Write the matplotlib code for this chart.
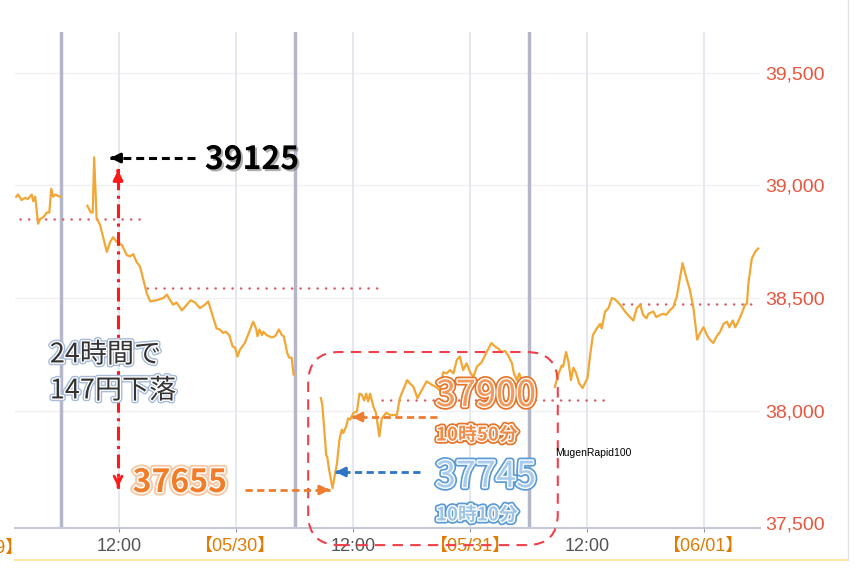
import matplotlib.pyplot as plt
import matplotlib.patheffects as pe
from matplotlib.patches import FancyBboxPatch
from matplotlib.lines import Line2D

plt.rcParams['font.family'] = ['Noto Sans CJK JP', 'DejaVu Sans']

# time = hours counted from 05/29 00:00, price in yen
s1_t = [1.45, 1.65, 2.0, 2.35, 2.65, 3.05, 3.2, 3.4, 3.7, 3.9, 4.25, 4.6, 4.85, 5.05, 5.25, 5.45, 5.95]
s1_p = [38950, 38960, 38935, 38945, 38940, 38960, 38930, 38950, 38830, 38850, 38860, 38880, 38880, 38985,
        38950, 38960, 38950]

s2_t = [8.75, 9.1, 9.3, 9.45, 9.7, 10.05, 10.75, 11.1, 11.4, 11.75, 12.3, 12.8, 13.15, 13.45, 13.8,
        14.15, 14.5, 14.85, 15.2, 15.85, 16.55, 16.9, 17.25, 17.55, 17.9, 18.45, 18.95, 19.35, 19.8, 20.3,
        20.8, 21.15, 21.5, 22.0, 22.35, 22.65, 22.95, 23.3, 23.65, 23.9, 24.15, 24.4, 24.9, 25.45, 25.75,
        26.05, 26.2, 26.4, 26.65, 26.8, 27.15, 27.65, 28.0, 28.4, 28.7, 28.9, 29.25, 29.45, 29.7, 29.9]
s2_p = [38910, 38880, 38880, 39125, 38855, 38825, 38705, 38750, 38770, 38750, 38735, 38690, 38685, 38695,
        38660, 38640, 38580, 38520, 38485, 38490, 38500, 38515, 38490, 38470, 38480, 38445, 38470, 38490,
        38480, 38455, 38470, 38485, 38435, 38365, 38360, 38345, 38350, 38335, 38285, 38280, 38240, 38270,
        38300, 38360, 38395, 38365, 38330, 38360, 38335, 38350, 38335, 38325, 38330, 38360, 38335, 38330,
        38255, 38235, 38235, 38160]

s3_t = [32.7, 32.85, 33.05, 33.25, 33.35, 33.55, 33.9, 34.1, 34.35, 34.6, 34.85, 35.0, 35.3, 35.5, 35.7,
        36.05, 36.4, 36.65, 36.9, 37.15, 37.35, 37.55, 37.75, 38.1, 38.35, 38.7, 38.95, 39.4, 39.8, 40.5,
        40.8, 41.55, 41.85, 42.2, 42.6, 43.05, 43.55, 44.05, 44.5, 44.9, 45.25, 45.6, 45.95, 46.3, 46.65,
        46.95, 47.3, 47.65, 48.0, 48.35, 48.7, 49.2, 49.7, 50.2, 50.55, 50.9, 51.25, 51.6, 51.9, 52.3,
        52.5, 52.8, 53.05, 53.3]
s3_p = [38055, 38025, 37915, 37800, 37795, 37735, 37655, 37705, 37765, 37870, 37915, 37900, 37930, 37965,
        37960, 37990, 37995, 38075, 38070, 38045, 38075, 38040, 38075, 38015, 37990, 37885, 37965, 37990,
        37980, 37980, 38055, 38135, 38120, 38105, 38055, 38090, 38130, 38115, 38105, 38090, 38170, 38165,
        38180, 38165, 38225, 38240, 38180, 38210, 38170, 38150, 38195, 38215, 38260, 38300, 38285, 38275,
        38260, 38265, 38245, 38210, 38165, 38135, 38165, 38130]

s4_t = [56.7, 57.05, 57.4, 57.55, 57.85, 58.1, 58.35, 58.6, 58.85, 59.2, 59.55, 60.05, 60.3, 60.6, 61.0,
        61.35, 61.5, 61.85, 62.2, 62.55, 62.85, 63.4, 63.9, 64.4, 64.75, 65.1, 65.45, 65.75, 66.1, 66.3,
        66.8, 67.1, 67.5, 67.85, 68.1, 68.5, 68.85, 69.2, 69.8, 70.25, 70.55, 70.9, 71.3, 71.6, 71.95,
        72.3, 72.6, 72.95, 73.3, 73.65, 74.0, 74.35, 74.6, 74.95, 75.2, 75.5, 75.85, 76.2, 76.4, 76.55,
        76.9, 77.25, 77.55]
s4_p = [38105, 38160, 38200, 38195, 38260, 38215, 38135, 38190, 38170, 38120, 38100, 38145, 38240, 38335,
        38365, 38385, 38365, 38440, 38455, 38500, 38495, 38470, 38440, 38415, 38400, 38455, 38470, 38425,
        38410, 38430, 38440, 38415, 38425, 38430, 38425, 38445, 38460, 38505, 38655, 38580, 38535, 38460,
        38315, 38345, 38370, 38335, 38315, 38300, 38330, 38350, 38385, 38395, 38370, 38400, 38370, 38395,
        38430, 38470, 38475, 38565, 38675, 38705, 38720]

# dotted level lines
lvl_start = [1.85, 14.9, 39.0, 63.7]
lvl_end = [14.9, 38.8, 62.4, 77.4]
lvl_value = [38850, 38545, 38045, 38475]

hour_ticks = [12, 24, 36, 48, 60, 72]
hour_labels = ['12:00', '【05/30】', '12:00', '【05/31】', '12:00', '【06/01】']
session_marks = [6, 30, 54]
price_ticks = [37500, 38000, 38500, 39000, 39500]

fig = plt.figure(figsize=(8.66, 5.69), dpi=100)
ax = fig.add_axes([15 / 866, 41 / 569, 745 / 866, 496 / 569])
ax.set_xlim(1.33, 77.74)
ax.set_ylim(37478, 39682)

for p in price_ticks[1:]:
    ax.axhline(p, color='#f0f0f3', lw=1, zorder=0)
for t in hour_ticks:
    ax.axvline(t, color='#e2e4ec', lw=1.2, zorder=0)
for t in session_marks:
    ax.axvline(t, color='#b5b7c9', lw=2.5, zorder=1)

for t, p in [(s1_t, s1_p), (s2_t, s2_p), (s3_t, s3_p), (s4_t, s4_p)]:
    ax.plot(t, p, color='#f2a735', lw=1.6, zorder=3)

for a, b, v in zip(lvl_start, lvl_end, lvl_value):
    ax.plot([a, b], [v, v], color='#d8606a', lw=1.8, ls=(0, (0.1, 3.3)),
            dash_capstyle='round', zorder=2)

for s in ['top', 'left', 'right']:
    ax.spines[s].set_visible(False)
ax.spines['bottom'].set_color('#c5c9d6')
ax.spines['bottom'].set_linewidth(1.5)

ax.yaxis.tick_right()
ax.set_yticks(price_ticks)
ax.set_yticklabels([f'{p:,}' for p in price_ticks], family=['Liberation Sans', 'DejaVu Sans'])
ax.tick_params(axis='y', length=0, pad=4, labelsize=14, labelcolor='#e8563f')

ax.set_xticks(hour_ticks)
ax.set_xticklabels(hour_labels, family=['Liberation Sans', 'Noto Sans CJK JP'])
ax.tick_params(axis='x', length=3, color='#9098a8', pad=4, labelsize=13)
for i, lab in enumerate(ax.get_xticklabels()):
    lab.set_color('#555555' if i % 2 == 0 else '#e07b00')
ax.text(2.3, -0.024, '【05/29】', transform=ax.get_xaxis_transform(), ha='right', va='top',
        fontsize=13, color='#e07b00', family=['Liberation Sans', 'Noto Sans CJK JP'], clip_on=False)


def arrow(x0, y0, x1, y1, color, ls, head='-|>', lw=2.0):
    ax.plot([x0, x1], [y0, y1], color=color, lw=lw, ls=ls, zorder=5, clip_on=False)
    ax.annotate('', xy=(x1, y1), xytext=(x1 + (x0 - x1) * 0.03, y1 + (y0 - y1) * 0.03),
                arrowprops=dict(arrowstyle=head, color=color, lw=lw, shrinkA=0, shrinkB=0,
                                mutation_scale=14), zorder=5)


def label(x, y, s, size, color, effects, weight='normal'):
    ax.text(x, y, s, fontsize=size, color=color, fontweight=weight, ha='left', va='center',
            path_effects=effects, zorder=6, clip_on=False)


# 39125 peak
arrow(19.8, 39122, 11.1, 39122, 'black', (0, (2.6, 1.6)), lw=2.2)
label(20.8, 39113, '39125', 23, 'black',
      [pe.withSimplePatchShadow(offset=(1.5, -1.5), shadow_rgbFace='#777777', alpha=0.6)], 'bold')

# 24h drop
ax.plot([11.9, 11.9], [39040, 37665], color='#ff1a1a', lw=2.2, ls=(0, (4.5, 1.8, 1, 1.8)), zorder=5)
arrow(11.9, 39000, 11.9, 39068, '#ff1a1a', '-', lw=2.2)
arrow(11.9, 37700, 11.9, 37660, '#ff1a1a', '-', head='->', lw=2.0)
drop_fx = [pe.Stroke(linewidth=4, foreground='#a8bcd8'), pe.Stroke(linewidth=2, foreground='white'),
           pe.Normal()]
label(4.9, 38247, '24時間で', 19.5, '#333333', drop_fx)
label(4.9, 38087, '147円下落', 19.5, '#333333', drop_fx)

# 37655 low
orange_fx = [pe.Stroke(linewidth=5, foreground='#f7c9a6'), pe.Stroke(linewidth=2.2, foreground='white'),
             pe.Normal()]
label(13.4, 37678, '37655', 23, '#f07d2a', orange_fx, 'bold')
arrow(24.9, 37647, 33.6, 37647, '#ed7d31', (0, (2.6, 1.6)))

# 37745 / 37900
blue_fx = [pe.Stroke(linewidth=4.5, foreground='#5b9bd5'), pe.Stroke(linewidth=2, foreground='white'),
           pe.Normal()]
orng_fx = [pe.Stroke(linewidth=4.5, foreground='#e6752a'), pe.Stroke(linewidth=2, foreground='white'),
           pe.Normal()]
arrow(42.9, 37727, 34.2, 37727, '#2e75c6', (0, (2.6, 1.6)))
arrow(44.6, 37971, 35.9, 37971, '#ed7d31', (0, (2.6, 1.6)))
label(44.5, 37704, '37745', 26, '#a9cbee', blue_fx)
label(44.5, 37536, '10時10分', 13.5, '#9dc3e6', blue_fx, 'bold')
label(44.5, 38064, '37900', 26, '#f29a5e', orng_fx)
label(44.5, 37891, '10時50分', 13.5, '#f08c4a', orng_fx, 'bold')

ax.text(56.7, 37811, 'MugenRapid100', fontsize=7.5, color='black', family=['Liberation Sans'],
        va='center', zorder=6)

box = FancyBboxPatch((31.4, 37402), 25.6, 858, boxstyle='round,pad=0,rounding_size=3.2',
                     mutation_aspect=4.444 * 9.75, fill=False, ec='#f0404a', lw=1.5,
                     ls=(0, (5, 3.5)), clip_on=False, zorder=4)
ax.add_patch(box)

fig.add_artist(Line2D([15 / 866, 848 / 866], [1 - 560 / 569] * 2, color='#fbe7a1', lw=1.5))
fig.add_artist(Line2D([848 / 866] * 2, [1 - 560 / 569, 1], color='#e3e3e3', lw=1))

fig.savefig('out.png', dpi=100)
